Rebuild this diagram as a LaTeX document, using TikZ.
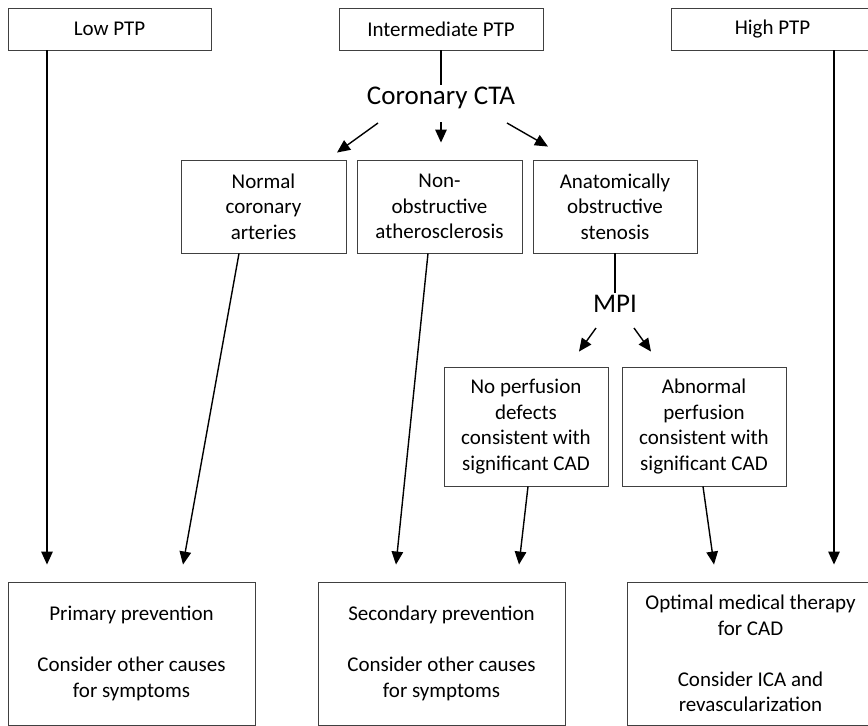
\documentclass[tikz,border=0pt]{standalone}
\usepackage{fontspec}
\setmainfont{Carlito}
\usepackage{tikz}
\usetikzlibrary{arrows.meta}
\tikzset{
  box/.style={draw=black!75, line width=0.9pt, align=center, inner sep=0pt, font=\fontsize{21}{25.7}\selectfont},
  title/.style={inner sep=0pt, font=\fontsize{27}{32}\selectfont},
  arr/.style={-{Triangle[length=13pt,width=11.5pt]}, line width=1.4pt},
  ln/.style={line width=1.4pt}
}

\begin{document}
\begin{tikzpicture}[x=1pt,y=-1pt]
      \useasboundingbox (0,0) rectangle (868,726);
      % top row
      \node[name=low, box, minimum width=203pt, minimum height=42pt] at (109.5,29) {Low PTP};
      \node[name=inter, box, minimum width=204pt, minimum height=42pt] at (441,29) {Intermediate PTP};
      \node[name=high, box, minimum width=203pt, minimum height=42pt] at (772.5,29) {High PTP};
      \node[name=cta, title] at (441,98) {Coronary CTA};
      % CTA results
      \node[name=normal, box, minimum width=165pt, minimum height=93pt] at (263.5,206.5) {Normal\\coronary\\arteries};
      \node[name=nonobs, box, minimum width=165pt, minimum height=93pt] at (439.5,206.5) {Non-\\obstructive\\atherosclerosis};
      \node[name=anat, box, minimum width=164pt, minimum height=93pt] at (615,206.5) {Anatomically\\obstructive\\stenosis};
      \node[name=mpi, title] at (615,304) {MPI};
      % MPI results
      \node[name=noperf, box, minimum width=164pt, minimum height=119pt] at (526,426.5) {No perfusion\\defects\\consistent with\\significant CAD};
      \node[name=abn, box, minimum width=164pt, minimum height=119pt] at (704,426.5) {Abnormal\\perfusion\\consistent with\\significant CAD};
      % management
      \node[name=primary, box, minimum width=247pt, minimum height=143pt] at (131.5,653.5) {Primary prevention\\[25pt]Consider other causes\\for symptoms};
      \node[name=secondary, box, minimum width=247pt, minimum height=143pt] at (441.5,653.5) {Secondary prevention\\[25pt]Consider other causes\\for symptoms};
      \node[name=optimal, box, minimum width=247pt, minimum height=143pt] at (750.5,653.5) {Optimal medical therapy\\for CAD\\[25pt]Consider ICA and\\revascularization};
      % connectors
      \draw[ln] (inter.south) -- ([yshift=2pt]cta.north);
      \draw[ln] (anat.south) -- ([yshift=2pt]mpi.north);
      \draw[arr] ([xshift=-63pt,yshift=-25pt]cta.center) -- ([xshift=73.5pt,yshift=7pt]normal.north);
      \draw[arr] ([yshift=-24pt]cta.center) -- ([xshift=1.5pt,yshift=17pt]nonobs.north);
      \draw[arr] ([xshift=66pt,yshift=-25pt]cta.center) -- ([xshift=-67pt,yshift=13pt]anat.north);
      \draw[arr] ([xshift=-19pt,yshift=-24pt]mpi.center) -- ([xshift=53pt,yshift=15pt]noperf.north);
      \draw[arr] ([xshift=19pt,yshift=-24pt]mpi.center) -- ([xshift=-53pt,yshift=15pt]abn.north);
      \draw[arr] ([xshift=-62.5pt]low.south) -- ([xshift=-84.5pt,yshift=17pt]primary.north);
      \draw[arr] ([xshift=-24.5pt]normal.south) -- ([xshift=51.5pt,yshift=17pt]primary.north);
      \draw[arr] ([xshift=-11.5pt]nonobs.south) -- ([xshift=-45.5pt,yshift=17pt]secondary.north);
      \draw[arr] ([xshift=2pt]noperf.south) -- ([xshift=77.5pt,yshift=17pt]secondary.north);
      \draw[arr] ([xshift=-1pt]abn.south) -- ([xshift=-36.5pt,yshift=17pt]optimal.north);
      \draw[arr] ([xshift=61.5pt]high.south) -- ([xshift=83.5pt,yshift=17pt]optimal.north);
    \end{tikzpicture}
\end{document}
